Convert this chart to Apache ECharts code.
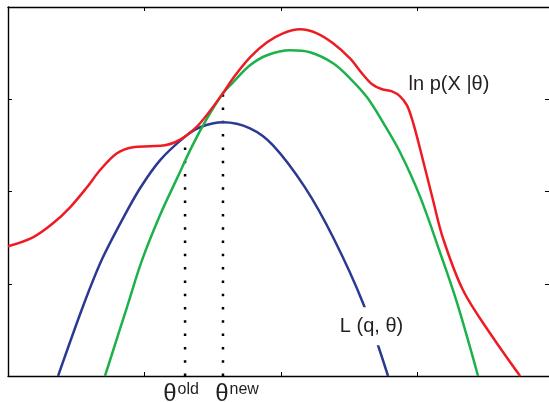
<!DOCTYPE html>
<html>
<head>
<meta charset="utf-8">
<script src="https://cdn.jsdelivr.net/npm/echarts@6/dist/echarts.min.js"></script>
<style>
html, body { margin: 0; padding: 0; background: #fff; }
#chart { width: 549px; height: 402px; }
</style>
</head>
<body>
<div id="chart"></div>
<script>
// ln p(X|theta) as [theta, value]
const logLik = [
  [0.000, 1.406], [0.183, 1.503], [0.330, 1.655], [0.455, 1.829], [0.579, 2.046],
  [0.674, 2.230], [0.799, 2.415], [0.916, 2.480], [1.041, 2.491], [1.151, 2.501],
  [1.224, 2.534], [1.298, 2.595], [1.408, 2.740], [1.576, 3.065], [1.650, 3.228],
  [1.774, 3.454], [1.899, 3.617], [2.016, 3.715], [2.141, 3.758], [2.265, 3.715],
  [2.383, 3.607], [2.507, 3.444], [2.595, 3.281], [2.669, 3.162], [2.742, 3.108],
  [2.815, 3.086], [2.874, 3.032], [2.925, 2.934], [2.969, 2.750], [3.020, 2.469],
  [3.116, 1.905], [3.189, 1.493], [3.336, 0.929], [3.534, 0.463], [3.754, 0.000]
];
// green bound curve touching at theta new
const newBound = [
  [0.711, 0.000], [0.872, 0.745], [0.982, 1.253], [1.114, 1.742], [1.239, 2.142],
  [1.349, 2.489], [1.459, 2.792], [1.576, 3.065], [1.650, 3.184], [1.774, 3.368],
  [1.899, 3.477], [2.068, 3.531], [2.214, 3.509], [2.383, 3.390], [2.507, 3.227],
  [2.632, 3.021], [2.749, 2.749], [2.874, 2.425], [3.020, 1.947], [3.167, 1.339],
  [3.292, 0.792], [3.446, 0.000]
];
// L(q, theta), blue
const lowerBound = [
  [0.367, 0.000], [0.550, 0.756], [0.689, 1.265], [0.843, 1.709], [0.968, 2.035],
  [1.114, 2.338], [1.298, 2.595], [1.408, 2.696], [1.576, 2.750], [1.774, 2.685],
  [1.943, 2.501], [2.177, 2.045], [2.383, 1.504], [2.603, 0.788], [2.786, 0.000]
];
const thetaOld = [[1.298, 0], [1.298, 2.595]];
const thetaNew = [[1.576, 0], [1.576, 3.065]];

const xTicks = [1, 2, 3];
const yTicks = [1, 2, 3];

const textColor = "#231F20";
const font = "Liberation Sans, Arial, sans-serif";

const myChart = echarts.init(document.getElementById("chart"));

function axis(position, max, ticks, showLine) {
  return {
    type: "value",
    position: position,
    min: 0,
    max: max,
    interval: 1,
    axisLine: { show: showLine, onZero: false, lineStyle: { color: "#000", width: 1.4 } },
    axisTick: { show: true, inside: true, length: 4, customValues: ticks, lineStyle: { color: "#000", width: 1 } },
    axisLabel: { show: false },
    splitLine: { show: false }
  };
}

function thetaLabel(sup) {
  return {
    formatter: "{t|θ}{s|" + sup + "}",
    rich: {
      t: { fontSize: 24, fontFamily: font, color: textColor, lineHeight: 24 },
      s: { fontSize: 16, fontFamily: font, color: textColor, verticalAlign: "top", lineHeight: 24, padding: [0, 0, 0, 1] }
    }
  };
}

function dotted(data, sup, dx) {
  return {
    type: "line",
    data: data,
    symbol: "none",
    silent: true,
    z: 1,
    lineStyle: { color: "#000", width: 2.5, type: [2.5, 10.8], cap: "butt" },
    markPoint: {
      symbol: "circle",
      symbolSize: 0,
      data: [{ coord: data[0] }],
      label: Object.assign({ show: true, position: "inside", offset: [dx, 18] }, thetaLabel(sup))
    }
  };
}

const option = {
  animation: false,
  backgroundColor: "#fff",
  grid: { left: 8, right: 0, top: 7, bottom: 26 },
  xAxis: [axis("bottom", 3.966, xTicks, true), axis("top", 3.966, xTicks, true)],
  yAxis: [axis("left", 4, yTicks, true), axis("right", 4, yTicks, false)],
  series: [
    dotted(thetaOld, "old", -4),
    dotted(thetaNew, "new", 14),
    {
      type: "line",
      data: lowerBound,
      smooth: 0.3,
      symbol: "none",
      z: 2,
      lineStyle: { color: "#2B3990", width: 2.5 },
      markPoint: {
        symbolSize: 0,
        data: [{ coord: [2.665, 0.54] }],
        label: {
          show: true,
          position: "inside",
          formatter: "L (q, θ)",
          fontSize: 20,
          fontFamily: font,
          color: textColor,
          backgroundColor: "#fff",
          padding: [12, 4, 6, 4]
        }
      }
    },
    {
      type: "line",
      data: newBound,
      smooth: 0.35,
      symbol: "none",
      z: 3,
      lineStyle: { color: "#1DB14B", width: 2.5 }
    },
    {
      type: "line",
      data: logLik,
      smooth: 0.35,
      symbol: "none",
      z: 4,
      lineStyle: { color: "#ED1C24", width: 2.5 },
      markPoint: {
        symbolSize: 0,
        data: [{ coord: [3.233, 3.162] }],
        label: {
          show: true,
          position: "inside",
          formatter: "ln p(X |θ)",
          fontSize: 20,
          fontFamily: font,
          color: textColor
        }
      }
    }
  ]
};

myChart.setOption(option);
</script>
</body>
</html>
